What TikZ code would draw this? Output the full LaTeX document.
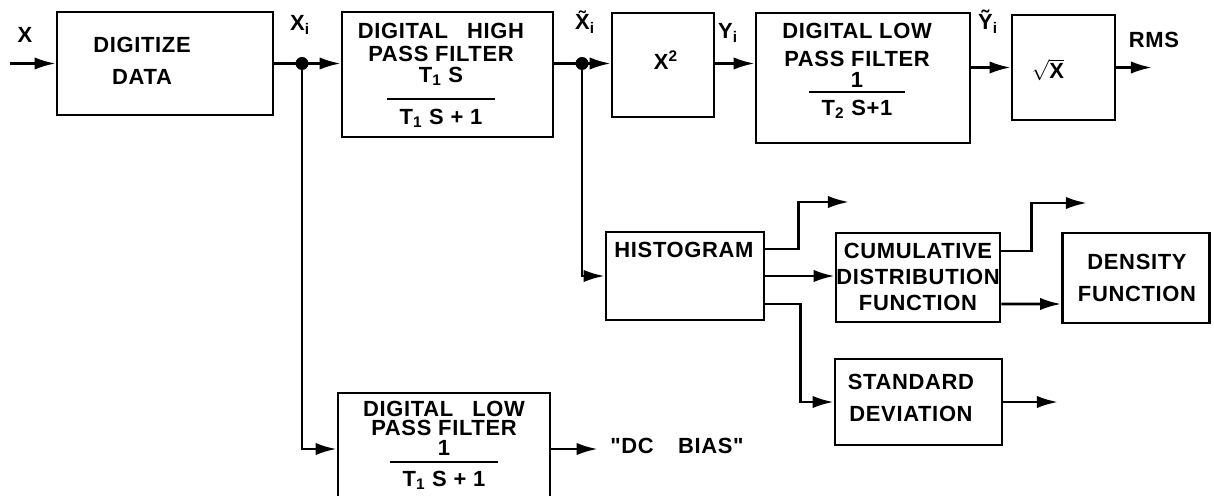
\documentclass[tikz,border=0pt]{standalone}
\usepackage{fontspec}
\setmainfont{Liberation Sans}[LetterSpace=3, Ligatures=TeXOff]
\usetikzlibrary{arrows.meta,calc}
\setlength{\arrayrulewidth}{1.3pt}
\newcommand{\frc}[4][5pt]{\begin{tabular}[t]{@{\hspace{7pt}}c@{\hspace{7pt}}}#3\\[#1]\hline\rule{0pt}{#2}#4\end{tabular}}
\tikzset{
  blk/.style={draw, line width=1.5pt, inner sep=0pt},
  txt/.style={font=\bfseries\fontsize{12.5}{18}\selectfont, align=center, inner sep=1pt},
  ftxt/.style={font=\bfseries\fontsize{12.5}{13.5}\selectfont, align=center, inner sep=1pt},
  wire/.style={line width=1.5pt},
  arr/.style={line width=1.5pt, -{Latex[length=12pt,width=7pt]}},
}
\begin{document}
\begin{tikzpicture}[x=0.02cm, y=-0.02cm]
\useasboundingbox (0,0) rectangle (1214,496);
% blocks
\node[blk, minimum width=4.32cm, minimum height=2.06cm] (dig) at (165,63.5) {};
\node[blk, minimum width=4.22cm, minimum height=2.5cm] (hpf) at (447.5,74.5) {};
\node[blk, minimum width=2.04cm, minimum height=2.08cm] (sq) at (663,65) {};
\node[blk, minimum width=4.28cm, minimum height=2.6cm] (lpf) at (863,78) {};
\node[blk, minimum width=2.06cm, minimum height=2.1cm] (rt) at (1063.5,67.5) {};
\node[blk, minimum width=3.16cm, minimum height=1.76cm] (hist) at (685,276) {};
\node[blk, minimum width=3.28cm, minimum height=1.78cm] (cdf) at (918,277.5) {};
\node[blk, minimum width=2.94cm, minimum height=1.8cm] (dens) at (1136,278) {};
\node[blk, minimum width=3.34cm, minimum height=1.72cm] (std) at (918.5,402) {};
\node[blk, minimum width=4.24cm, minimum height=2.24cm] (lpfb) at (444,449) {};
% block texts
\node[txt] (digtxt) at (142,61) {DIGITIZE\\DATA};
\node[ftxt] (hpftxt) at (441,77) {DIGITAL\hspace{7pt} HIGH\\PASS FILTER\\[-2pt]\frc{13.5pt}{T\textsubscript{1} S}{T\textsubscript{1} S + 1}};
\node[txt] (sqtxt) at (666,60) {X\textsuperscript{2}};
\node[ftxt] (lpftxt) at (857,73) {DIGITAL LOW\\[2.5pt]PASS FILTER\\[-2pt]\frc[-1.8pt]{12.5pt}{1}{T\textsubscript{2} S+1}};
\node[txt] (rttxt) at (1048,70) {$\sqrt{\mbox{X}}$};
\node[txt] (histtxt) at (684,250) {HISTOGRAM};
\node[ftxt, font=\bfseries\fontsize{12.5}{15}\selectfont] (cdftxt) at (918,277) {CUMULATIVE\\DISTRIBUTION\\FUNCTION};
\node[txt] (denstxt) at (1137,278) {DENSITY\\FUNCTION};
\node[txt] (stdtxt) at (911,398) {STANDARD\\DEVIATION};
\node[ftxt, font=\bfseries\fontsize{12.5}{11}\selectfont] (lpfbtxt) at (444,446.5) {DIGITAL\hspace{7pt} LOW\\PASS FILTER\\\frc[0pt]{13pt}{1}{T\textsubscript{1} S + 1}};
% signal labels
\node[txt] (xlbl) at (25,35) {X};
\node[txt] (xilbl) at (300,25) {X\textsubscript{i}};
\node[txt] (xtlbl) at (585,22) {\~{X}\textsubscript{i}};
\node[txt] (yilbl) at (728,33) {Y\textsubscript{i}};
\node[txt] (ytlbl) at (988,22) {\~{Y}\textsubscript{i}};
\node[txt] (rmslbl) at (1154,40) {RMS};
\node[txt] (dcb) at (677,446) {"DC\hspace{10pt} BIAS"};
% junctions and free ends
\coordinate (in) at (10,63.5);
\coordinate (j1) at (302,63.5);
\coordinate (j2) at (582,63.5);
\coordinate (rms) at (1152,67.5);
\coordinate (h1) at (849,202);
\coordinate (c1) at (1087,203);
\coordinate (s1) at (1058,402);
% connectors
\draw[arr] (in) -- (dig.west);
\draw[wire] (dig.east |- j1) -- (j1);
\draw[arr] (j1) -- (j1 -| hpf.west);
\draw[arr] (j1) |- (lpfb.west);
\draw[wire] (hpf.east |- j2) -- (j2);
\draw[arr] (j2) -- (j2 -| sq.west);
\draw[arr] (j2) |- (hist.west);
\draw[arr] (sq.east |- j2) -- (j2 -| lpf.west);
\draw[arr] (rt.west -| lpf.east) -- (rt.west);
\draw[arr] (rt.east) -- (rms);
\draw[arr] ($(hist.east)+(0,-27)$) -- ++(33,0) |- (h1);
\draw[arr] (hist.east) -- (hist.east -| cdf.west);
\draw[arr] ($(hist.east)+(0,28)$) -- ++(35,0) |- (std.west);
\draw[arr] ($(cdf.east)+(0,-26.5)$) -- ++(30,0) |- (c1);
\draw[arr] ($(cdf.east)+(0,26.5)$) -- ($(dens.west)+(0,26)$);
\draw[arr] (std.east) -- (s1);
\draw[arr, shorten >=6pt] (lpfb.east) -- (lpfb.east -| dcb.west);
\fill (j1) circle (6.5);
\fill (j2) circle (6.5);
\end{tikzpicture}
\end{document}
